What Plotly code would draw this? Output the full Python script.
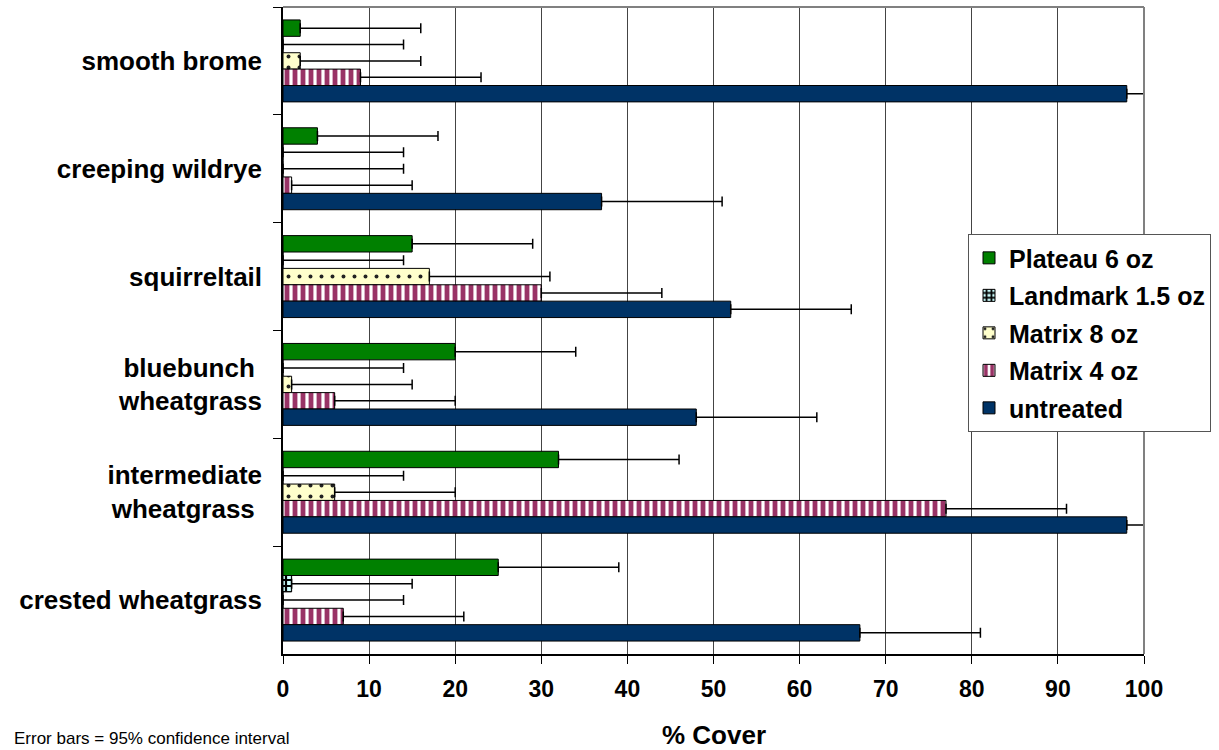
import plotly.graph_objects as go

categories = ["smooth brome", "creeping wildrye", "squirreltail",
              "bluebunch\u00a0<br>wheatgrass", "intermediate<br>wheatgrass\u00a0",
              "crested wheatgrass"]
series_names = ["Plateau 6 oz", "Landmark 1.5 oz", "Matrix 8 oz", "Matrix 4 oz", "untreated"]

plateau = [2, 4, 15, 20, 32, 25]
landmark = [0, 0, 0, 0, 0, 1]
matrix8 = [2, 0, 17, 1, 6, 0]
matrix4 = [9, 1, 30, 6, 77, 7]
untreated = [98, 37, 52, 48, 98, 67]

err_plateau = [14, 14, 14, 14, 14, 14]
err_landmark = [14, 14, 14, 14, 14, 14]
err_matrix8 = [14, 14, 14, 14, 14, 14]
err_matrix4 = [14, 14, 14, 14, 14, 14]
err_untreated = [14, 14, 14, 14, 14, 14]

x_ticks = [0, 10, 20, 30, 40, 50, 60, 70, 80, 90, 100]

FONT = "Liberation Sans, Arial, sans-serif"

styles = [
    dict(color="#008000", pattern=None),
    dict(color="#CCFFFF", pattern=dict(shape="+", fgcolor="#000000", bgcolor="#CCFFFF",
                                       size=6, solidity=0.6, fgopacity=1, fillmode="replace")),
    dict(color="#FFFFCC", pattern=dict(shape=".", fgcolor="#222222", bgcolor="#FFFFCC",
                                       size=11, solidity=0.1, fgopacity=1, fillmode="replace")),
    dict(color="#993366", pattern=dict(shape="|", fgcolor="#993366", bgcolor="#FFFFFF",
                                       size=8, solidity=0.6, fgopacity=1, fillmode="replace")),
    dict(color="#003366", pattern=None),
]

values = [plateau, landmark, matrix8, matrix4, untreated]
errors = [err_plateau, err_landmark, err_matrix8, err_matrix4, err_untreated]

fig = go.Figure()
for name, vals, errs, st in zip(series_names, values, errors, styles):
    marker = dict(color=st["color"], line=dict(color="#000000", width=1))
    if st["pattern"] is not None:
        marker["pattern"] = st["pattern"]
    fig.add_trace(go.Bar(
        y=categories, x=vals, name=name, orientation="h",
        marker=marker, legendgroup=name,
        error_x=dict(type="data", array=errs, arrayminus=[0] * len(errs),
                     symmetric=False, color="#000000", thickness=1.5, width=5),
    ))

fig.update_layout(
    width=1219, height=750,
    margin=dict(l=283, r=75, t=7, b=96, autoexpand=False),
    paper_bgcolor="white", plot_bgcolor="white",
    barmode="group", bargap=0.24, bargroupgap=0,
    font=dict(family=FONT, color="#000000"),
    legend=dict(x=0.7956, y=0.649, xanchor="left", yanchor="top",
                bgcolor="white", bordercolor="#555555", borderwidth=1,
                font=dict(size=25, weight="bold", family=FONT),
                itemwidth=30, tracegroupgap=2, traceorder="grouped"),
    xaxis=dict(range=[0, 100], tickvals=x_ticks, showgrid=True, gridcolor="#444444",
               gridwidth=1, showline=True, linecolor="#000000", linewidth=1.5,
               ticks="outside", ticklen=8, tickcolor="#000000",
               tickfont=dict(size=23, weight="bold", family=FONT), zeroline=False,
               ticklabelstandoff=6, fixedrange=True),
    yaxis=dict(type="category", autorange="reversed", tickson="boundaries",
               ticks="outside", ticklen=8, tickcolor="#000000",
               showline=True, linecolor="#000000", linewidth=1.5, showgrid=False,
               tickfont=dict(size=26, weight="bold", family=FONT), ticklabelstandoff=14),
    shapes=[
        dict(type="line", xref="paper", yref="paper", x0=0, x1=1, y0=1, y1=1,
             line=dict(color="#808080", width=2)),
        dict(type="line", xref="paper", yref="paper", x0=1, x1=1, y0=0, y1=1,
             line=dict(color="#808080", width=2)),
    ],
    annotations=[
        dict(text="% Cover", xref="paper", yref="paper", x=0.5, y=-0.125,
             xanchor="center", yanchor="middle", showarrow=False,
             font=dict(size=26, weight="bold", family=FONT)),
        dict(text="Error bars = 95% confidence interval", xref="paper", yref="paper",
             x=-0.3147, y=-0.13, xanchor="left", yanchor="middle", showarrow=False,
             font=dict(size=17, family=FONT)),
    ],
)

fig.write_html("out.html")
